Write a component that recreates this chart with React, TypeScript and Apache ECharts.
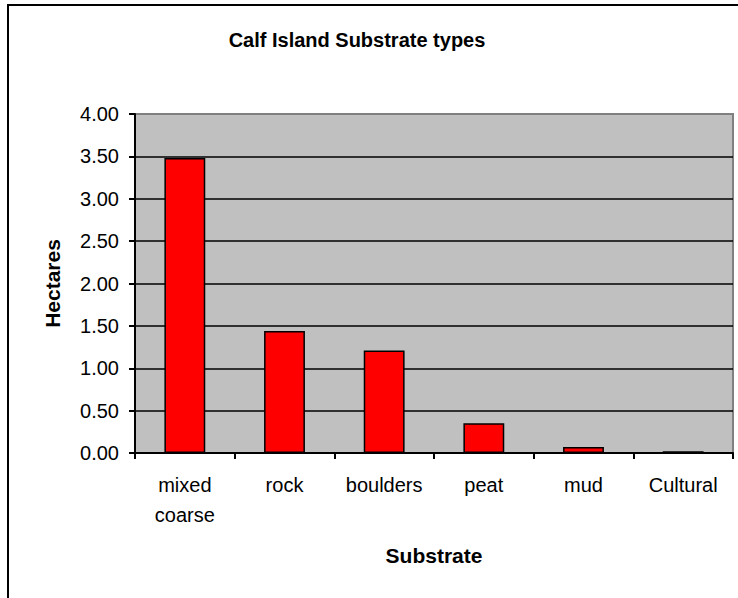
import React, { useEffect, useRef } from "react";
import * as echarts from "echarts";

const categories = ["mixed coarse", "rock", "boulders", "peat", "mud", "Cultural"];
const hectares = [3.48, 1.44, 1.21, 0.35, 0.07, 0.02];
const yTicks = [0, 0.5, 1, 1.5, 2, 2.5, 3, 3.5, 4];
const titleText = "Calf Island Substrate types";
const xName = "Substrate";
const yName = "Hectares";

const FONT = "'Liberation Sans', Arial, sans-serif";

export default function App() {
  const ref = useRef<HTMLDivElement>(null);
  useEffect(() => {
    document.body.style.margin = "0";
    if (!ref.current) return;
    const chart = echarts.init(ref.current, null, { renderer: "svg" });
    const splitColors = yTicks.map((v, i) => (i === yTicks.length - 1 ? "#808080" : "#000000"));
    chart.setOption({
      animation: false,
      backgroundColor: "#ffffff",
      textStyle: { fontFamily: FONT },
      title: {
        text: titleText,
        left: 352,
        top: 25,
        textAlign: "center",
        textStyle: { fontFamily: FONT, fontSize: 20, fontWeight: "bold", color: "#000" },
      },
      graphic: [
        {
          type: "rect",
          shape: { x: 8, y: 5, width: 800, height: 700 },
          style: { fill: "none", stroke: "#000", lineWidth: 2 },
          silent: true,
        },
      ],
      grid: {
        left: 135,
        top: 114,
        right: 5,
        bottom: 145,
        show: true,
        backgroundColor: "#C0C0C0",
        borderColor: "#808080",
        borderWidth: 2,
      },
      xAxis: {
        type: "category",
        data: categories,
        name: xName,
        nameLocation: "middle",
        nameGap: 92,
        nameTextStyle: { fontFamily: FONT, fontSize: 21, fontWeight: "bold", color: "#000" },
        axisLine: { show: true, lineStyle: { color: "#000", width: 2 } },
        axisTick: { show: true, inside: false, length: 6, lineStyle: { color: "#000", width: 2 } },
        axisLabel: {
          margin: 17,
          fontFamily: FONT,
          fontSize: 20,
          color: "#000",
          lineHeight: 30,
          interval: 0,
          formatter: (v: string) => v.replace(" ", "\n"),
        },
        splitLine: { show: false },
      },
      yAxis: {
        type: "value",
        min: 0,
        max: 4,
        interval: 0.5,
        name: yName,
        nameLocation: "middle",
        nameRotate: 90,
        nameGap: 72,
        nameTextStyle: { fontFamily: FONT, fontSize: 21, fontWeight: "bold", color: "#000" },
        axisLine: { show: true, lineStyle: { color: "#000", width: 2 } },
        axisTick: { show: true, inside: false, length: 6, lineStyle: { color: "#000", width: 2 } },
        axisLabel: {
          margin: 16,
          fontFamily: FONT,
          fontSize: 20,
          color: "#000",
          formatter: (v: number) => v.toFixed(2),
        },
        splitLine: { show: true, lineStyle: { color: splitColors, width: 1.5 } },
      },
      series: [
        {
          type: "bar",
          data: hectares,
          barWidth: "41%",
          itemStyle: { color: "#FF0000", borderColor: "#000", borderWidth: 1.5 },
        },
      ],
    });
    return () => chart.dispose();
  }, []);
  return <div ref={ref} style={{ width: 738, height: 598 }} />;
}
